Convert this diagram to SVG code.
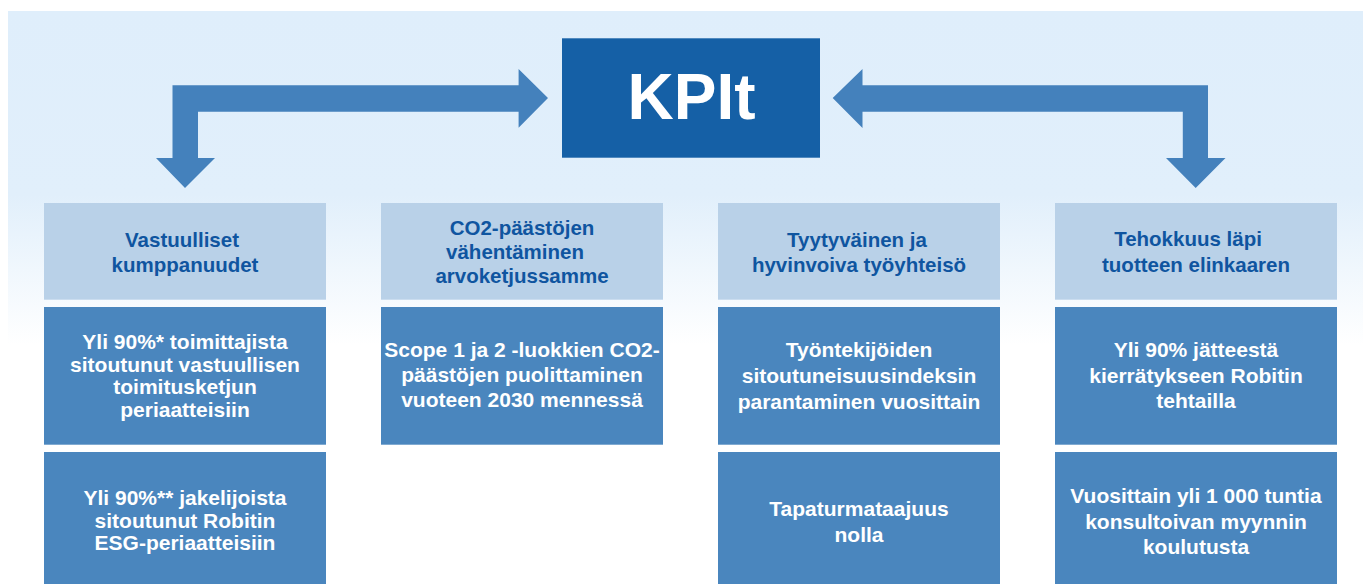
<svg xmlns="http://www.w3.org/2000/svg" width="1363" height="584" viewBox="0 0 1363 584">
<defs>
<linearGradient id="bg" x1="0" y1="11" x2="0" y2="345" gradientUnits="userSpaceOnUse">
<stop offset="0" stop-color="#DFEEFB"/>
<stop offset="0.55" stop-color="#E1EFFB"/>
<stop offset="1" stop-color="#FFFFFF"/>
</linearGradient>
<style>
.t{font-family:"Liberation Sans",Arial,sans-serif;font-weight:bold;font-size:20.5px;text-anchor:middle}
.hd{fill:#B9D1E8}
.bd{fill:#4A86BE}
.ht{fill:#0F55A0}
.bt{fill:#FFFFFF;font-size:21px}
.arr{fill:#4481BC}
</style>
</defs>
<rect x="0" y="0" width="1363" height="584" fill="#FFFFFF"/>
<rect x="8" y="11" width="1355" height="573" fill="url(#bg)"/>

<g id="connectors">
<polygon class="arr" points="185,188 215,158 198,158 198,111.7 518.6,111.7 518.6,127.7 548,98 518.6,69 518.6,85.3 172.5,85.3 172.5,158 156,158"/>
<polygon class="arr" points="832.7,98 862.5,69 862.5,85.3 1208,85.3 1208,158 1225.5,158 1195.7,188 1166,158 1182.8,158 1182.8,111.7 862.5,111.7 862.5,128"/>
</g>

<g id="kpit">
<rect x="562" y="38.3" width="258" height="119.4" fill="#1560A6"/>
<text x="691.5" y="119.3" font-family="Liberation Sans, Arial, sans-serif" font-weight="bold" font-size="64" fill="#FFFFFF" text-anchor="middle">KPIt</text>
</g>

<g id="col1-header">
<rect class="hd" x="44" y="203" width="282" height="96.7"/>
<text class="t ht" x="182" y="247">Vastuulliset</text>
<text class="t ht" x="185" y="272">kumppanuudet</text>
</g>
<g id="col1-box1">
<rect class="bd" x="44" y="307" width="282" height="137.7"/>
<text class="t bt" x="185" y="349">Yli 90%* toimittajista</text>
<text class="t bt" x="185" y="371.7">sitoutunut vastuullisen</text>
<text class="t bt" x="185" y="394.3">toimitusketjun</text>
<text class="t bt" x="185" y="417">periaatteisiin</text>
</g>
<g id="col1-box2">
<rect class="bd" x="44" y="452" width="282" height="132"/>
<text class="t bt" x="185" y="505">Yli 90%** jakelijoista</text>
<text class="t bt" x="185" y="527.5">sitoutunut Robitin</text>
<text class="t bt" x="185" y="550">ESG-periaatteisiin</text>
</g>

<g id="col2-header">
<rect class="hd" x="381" y="203" width="282" height="96.7"/>
<text class="t ht" x="522" y="235">CO2-päästöjen</text>
<text class="t ht" x="515" y="259">vähentäminen</text>
<text class="t ht" x="522" y="283">arvoketjussamme</text>
</g>
<g id="col2-box1">
<rect class="bd" x="381" y="307" width="282" height="137.7"/>
<text class="t bt" x="522" y="357">Scope 1 ja 2 -luokkien CO2-</text>
<text class="t bt" x="522" y="382">päästöjen puolittaminen</text>
<text class="t bt" x="522" y="407">vuoteen 2030 mennessä</text>
</g>

<g id="col3-header">
<rect class="hd" x="718" y="203" width="282" height="96.7"/>
<text class="t ht" x="857" y="247">Tyytyväinen ja</text>
<text class="t ht" x="859" y="272">hyvinvoiva työyhteisö</text>
</g>
<g id="col3-box1">
<rect class="bd" x="718" y="307" width="282" height="137.7"/>
<text class="t bt" x="859" y="357">Työntekijöiden</text>
<text class="t bt" x="859" y="383">sitoutuneisuusindeksin</text>
<text class="t bt" x="859" y="409">parantaminen vuosittain</text>
</g>
<g id="col3-box2">
<rect class="bd" x="718" y="452" width="282" height="132"/>
<text class="t bt" x="859" y="516">Tapaturmataajuus</text>
<text class="t bt" x="859" y="542">nolla</text>
</g>

<g id="col4-header">
<rect class="hd" x="1055" y="203" width="282" height="96.7"/>
<text class="t ht" x="1188" y="246">Tehokkuus läpi</text>
<text class="t ht" x="1196" y="272">tuotteen elinkaaren</text>
</g>
<g id="col4-box1">
<rect class="bd" x="1055" y="307" width="282" height="137.7"/>
<text class="t bt" x="1196" y="357">Yli 90% jätteestä</text>
<text class="t bt" x="1196" y="383">kierrätykseen Robitin</text>
<text class="t bt" x="1196" y="408">tehtailla</text>
</g>
<g id="col4-box2">
<rect class="bd" x="1055" y="452" width="282" height="132"/>
<text class="t bt" x="1196" y="502.5">Vuosittain yli 1 000 tuntia</text>
<text class="t bt" x="1196" y="528.5">konsultoivan myynnin</text>
<text class="t bt" x="1196" y="553.5">koulutusta</text>
</g>
</svg>
